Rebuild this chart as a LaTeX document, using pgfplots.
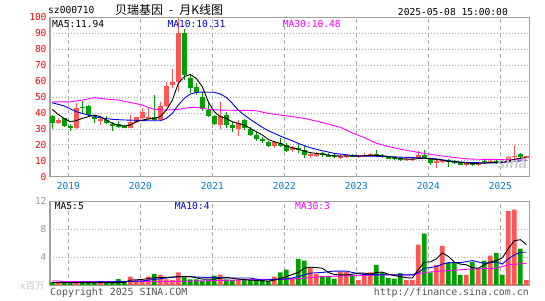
\documentclass[border=0pt]{standalone}
\usepackage{pgfplots}
\pgfplotsset{compat=1.18}
\usepackage{pgfplotstable}
\usepackage{fontspec}
\setmainfont{DejaVu Sans Mono}
\setmonofont{DejaVu Sans Mono}
\setsansfont{Liberation Sans}
\newfontfamily\cjk{Noto Sans CJK SC}

\definecolor{upC}{RGB}{255,85,85}
\definecolor{dnC}{RGB}{0,160,0}
\definecolor{frameC}{RGB}{160,160,160}
\definecolor{gridC}{RGB}{170,170,170}
\definecolor{yearC}{RGB}{0,128,204}
\definecolor{maB}{RGB}{0,0,230}
\definecolor{maM}{RGB}{255,0,255}
\definecolor{volC}{RGB}{150,150,150}
\definecolor{footC}{RGB}{85,85,85}

% monthly candles, index 0 = 2018-10
\pgfplotstableread{
i o h l c
1 34 37 33 35.6
4 30.5 46 29.7 43
8 35.6 37 32.4 36.2
13 30.3 38.7 30.3 34.5
14 34.5 37.7 34 37.2
15 36.6 43.3 36 40.8
16 36 42.9 35.6 37.7
18 35.6 47 35.4 44.4
19 44.4 59.6 44 57.1
20 57.5 67.4 55.4 59.6
21 59.6 99.5 53.3 90
28 32.4 47 29.7 38
31 29.7 35.6 25.5 33.5
37 19.2 22.5 17.8 22
40 16.7 19.2 15.7 18.4
43 12.8 14.8 12 14.2
44 13.4 15.2 12.2 14.4
48 12 14 11.4 12.8
49 12.8 14.5 12 13.4
51 12.6 13.8 12 13.2
52 13 14.6 12.2 13.6
53 13.4 14.6 12.6 14
59 10.4 11.6 10 11.2
60 10.6 11.8 9.6 11.2
61 11.2 16.1 10.8 13.6
64 9 10.4 5.5 9.6
65 9.4 11.2 8.6 10.2
69 7.8 9.5 7 8.6
71 7.8 9 6.6 8.4
73 9.2 10.2 8.8 9.8
76 9.4 13.2 8.8 12.6
77 12.6 19.9 11.2 13.2
79 12.4 13.2 12 12.9
}\upT
\pgfplotstableread{
i o h l c
0 38 39 30 34
2 36.6 37 31 32
3 32 33 28.5 31
5 43.8 47.5 39.7 43.2
6 44.4 45 38.3 38.7
7 37.7 38.7 33.5 36
9 35.6 38.3 32.8 33.5
10 32.8 34.5 28.9 32.2
11 32.8 35 30.3 31.4
12 31.8 32.5 30.3 31.2
17 37.7 51.3 35.2 35.6
22 90 93 60.7 63.8
23 61.7 63.8 52.3 55.4
24 56.5 58.6 51.3 52.7
25 49.8 53.3 41.4 42.3
26 41.8 46 37.7 38
27 38 38.7 32.4 33
29 38.7 40.8 30.3 32.4
30 32.4 34.5 28.2 30.3
32 35.6 36 29.3 30.3
33 29.7 31 25.5 26.2
34 26.2 28.2 22.6 23.4
35 23.4 24.7 21.3 22.6
36 22 22.5 18.4 19.2
38 21.3 24 18.8 19.2
39 19.9 20.9 15.7 16.3
41 17.8 20.9 15.1 17.2
42 16.7 19.2 11.5 13.6
45 14.6 15.2 12.6 13.4
46 13.6 14.6 12.2 12.6
47 13 14.2 11.5 12.4
50 13.4 14.2 12.4 12.8
54 14 16.8 12.4 12.8
55 13 14 12 12.4
56 12.4 12.8 11.2 11.6
57 11.8 12.4 10.6 11.2
58 11.6 12.2 9.8 10.6
62 13.8 16.8 11 11.5
63 11.5 12 7.4 8.6
66 10.5 11 6.3 9
67 9.6 10.6 8.2 8.8
68 8.4 9.2 7.4 7.9
70 8.3 9.3 7 7.8
72 9.9 10.6 8.6 9.2
74 9.7 11.1 8.2 8.4
75 9.6 10.4 8.6 9.0
78 14 14.8 11.2 12.4
}\dnT

\pgfplotstableread{
i v
0 42.3
1 39
2 36.5
3 34.5
4 35.2
5 36.6
6 37.7
7 38.7
8 37.7
9 35.6
10 33.5
11 32.4
12 31.8
13 32.4
14 34.5
15 35.6
16 36.2
17 36.6
18 37.7
19 41.8
20 48
21 58.6
22 62.8
23 64.2
24 61.7
25 56.5
26 47
27 40.8
28 37.7
29 36.6
30 34.5
31 33.5
32 32.4
33 30.3
34 28.2
35 26.2
36 23.4
37 22
38 20.9
39 19.2
40 18.2
41 17.2
42 16.1
43 15.1
44 14.6
45 14.2
46 13.6
47 13.2
48 13
49 13
50 13
51 12.9
52 13.1
53 13.4
54 13.4
55 13.2
56 12.7
57 12.1
58 11.4
59 11.1
60 11
61 11.4
62 11.6
63 11.2
64 10.8
65 10.4
66 9.6
67 9.3
68 9
69 8.6
70 8.4
71 8.4
72 8.5
73 8.8
74 9.1
75 9.2
76 9.9
77 10.9
78 11.6
79 11.94
}\maFive
\pgfplotstableread{
i v
0 46.4
2 44.4
4 40.8
6 38.7
8 37
10 36
12 35.6
14 35.4
16 35.1
18 35.1
19 36.6
20 39.7
21 45
22 49.2
23 51.9
24 52.9
25 53.1
26 53
27 53
28 51.9
29 49.8
30 46
31 41.8
32 38.7
33 36
34 33.5
35 31
36 28.9
37 27.2
38 25.5
39 24
40 22.6
41 20.9
42 19.5
43 18.2
44 17.2
45 16.3
46 15.5
47 14.6
48 14.2
49 13.8
50 13.3
52 13
54 12.8
56 12.6
58 12.3
60 12
62 11.7
64 11.2
66 10
68 9.2
70 8.9
72 8.7
74 8.7
76 9.2
78 9.9
79 10.31
}\maTen
\pgfplotstableread{
i v
0 47
3 47
5 48.1
7 49.6
9 48.7
11 48.1
13 46.6
15 45
16 43.5
17 42.3
19 41.8
21 42.3
22 42.9
23 43.5
24 43.5
26 42.3
28 41.8
32 41.6
34 41.4
36 39.7
38 38.7
40 37.7
42 36.6
44 34.9
46 33
48 31
50 27.5
52 24.5
54 21
56 19
58 17.3
60 15.9
62 14.6
64 13.5
66 12.5
68 11.6
70 11
72 10.9
74 10.8
76 10.6
79 10.48
}\maThirty

% volume, million shares
\pgfplotstableread{
i v
1 0.3
4 0.4
8 0.4
13 1.2
14 0.7
15 0.6
16 1.2
18 1.45
19 0.8
20 0.7
21 1.8
28 1.5
31 0.8
37 1.2
40 1.0
43 2.5
44 1.6
48 1.9
49 1.9
51 0.7
52 1.5
53 1.8
59 0.7
60 0.7
61 5.8
64 2.9
65 5.6
69 1.45
71 2.3
73 4.2
76 10.6
77 10.8
79 0.7
}\volUp
\pgfplotstableread{
i v
0 0.4
2 0.3
3 0.3
5 0.35
6 0.35
7 0.35
9 0.35
10 0.4
11 0.85
12 0.45
17 1.6
22 1.1
23 0.8
24 0.8
25 0.6
26 0.7
27 1.35
29 0.8
30 0.7
32 0.8
33 0.8
34 0.8
35 0.7
36 0.55
38 1.8
39 2.2
41 3.75
42 3.5
45 1.3
46 1.3
47 0.9
50 1.35
54 2.9
55 1.8
56 1.0
57 0.9
58 1.7
62 7.35
63 1.8
66 3.2
67 3.2
68 1.45
70 3.3
72 3.5
74 4.6
75 1.45
78 5.2
}\volDn
\pgfplotstableread{
i v
0 0.35
12 0.35
13 0.7
15 0.8
17 1.05
19 1.1
21 1.2
23 1.2
25 0.85
27 0.85
29 1.1
31 0.85
33 0.7
35 0.6
36 0.55
37 0.7
39 1.2
41 1.8
42 2.4
43 2.55
44 2.5
45 2.4
46 1.8
47 1.5
48 1.45
49 1.45
50 1.55
51 1.7
52 1.7
53 1.55
54 1.8
55 1.85
56 1.55
57 1.35
58 1.2
59 1.05
60 1.0
61 2.2
62 3.3
63 3.3
64 3.75
65 4.6
66 4.1
67 3.3
68 3.0
69 2.9
70 2.5
71 2.4
72 2.9
73 3.3
74 3.5
75 3.9
76 5.2
77 6.35
78 6.5
79 5.8
}\vmaFive
\pgfplotstableread{
i v
0 0.35
13 0.5
15 0.6
17 0.8
19 1.0
21 1.2
23 1.2
25 1.1
27 1.1
29 1.0
33 1.0
35 0.7
37 0.8
39 0.85
41 1.2
43 1.7
45 1.8
47 2.0
49 2.0
50 1.8
52 1.5
58 1.45
60 1.45
61 1.8
62 2.4
63 2.5
64 2.65
65 3.0
66 3.2
68 3.2
69 3.35
70 3.5
71 3.3
72 3.1
74 3.3
75 3.0
76 3.75
77 4.3
78 4.7
79 4.7
}\vmaTen
\pgfplotstableread{
i v
0 0.6
2 0.5
20 0.5
25 0.6
30 0.7
35 0.8
40 0.85
45 1.2
50 1.35
55 1.45
60 1.45
62 1.8
65 2.0
70 2.3
74 2.4
76 2.9
79 3.1
}\vmaThirty

\pgfplotsset{
  kbase/.style={scale only axis, width=479.5pt, xmin=-0.383, xmax=79.53,
    axis line style={frameC, line width=1.2pt},
    xtick={2.667,14.667,26.667,38.667,50.667,62.667,74.667},
    xmajorgrids, ymajorgrids,
    major x grid style={gridC, dash pattern=on 4pt off 3pt, line width=0.8pt},
    major y grid style={gridC, dash pattern=on 1pt off 2pt, line width=0.8pt},
    major tick length=0pt, tick style={draw=none},
    ticklabel style={font=\fontsize{9.5}{10}\selectfont},
    /pgf/number format/assume math mode=true},
  wick/.style={draw=none, mark=none, forget plot,
    error bars/.cd, y dir=both, y explicit, error mark=none,
    error bar style={line width=1pt, draw=#1, solid}},
  body/.style={draw=none, mark=none, forget plot,
    error bars/.cd, y dir=both, y explicit, error mark=none,
    error bar style={line width=4.7pt, draw=#1, solid}},
}
\newcommand\tsz{\fontsize{9.6}{10}\selectfont}

\begin{document}
\begin{tikzpicture}
\useasboundingbox (0,0) rectangle (545pt,300pt);
\fill[white] (0,0) rectangle (545pt,300pt);

% price panel
\begin{axis}[kbase, at={(50pt,123.3pt)}, anchor=south west, height=159.3pt,
  ymin=0, ymax=100, ytick={0,10,...,100},
  yticklabel style={text=red},
  xticklabels={2019,2020,2021,2022,2023,2024,2025},
  xticklabel style={text=yearC, yshift=-2pt}]
  \addplot[wick=upC] table[x=i, y expr={(\thisrow{h}+\thisrow{l})/2}, y error expr={(\thisrow{h}-\thisrow{l})/2}] {\upT};
  \addplot[wick=dnC] table[x=i, y expr={(\thisrow{h}+\thisrow{l})/2}, y error expr={(\thisrow{h}-\thisrow{l})/2}] {\dnT};
  \addplot[body=upC] table[x=i, y expr={(\thisrow{o}+\thisrow{c})/2}, y error expr={abs(\thisrow{c}-\thisrow{o})/2}] {\upT};
  \addplot[body=dnC] table[x=i, y expr={(\thisrow{o}+\thisrow{c})/2}, y error expr={abs(\thisrow{c}-\thisrow{o})/2}] {\dnT};
  \addplot[maM, line width=0.9pt] table[x=i, y=v] {\maThirty};
  \addplot[maB, line width=0.9pt] table[x=i, y=v] {\maTen};
  \addplot[black, line width=0.9pt] table[x=i, y=v] {\maFive};
\end{axis}

% volume panel
\begin{axis}[kbase, at={(50pt,15pt)}, anchor=south west, height=83.7pt,
  ymin=0, ymax=12, ytick={4,8,12},
  yticklabel style={text=volC}, xticklabels={}]
  \addplot[ybar, bar width=4.7pt, bar shift=0pt, fill=upC, draw=none] table[x=i, y=v] {\volUp};
  \addplot[ybar, bar width=4.7pt, bar shift=0pt, fill=dnC, draw=none] table[x=i, y=v] {\volDn};
  \addplot[maM, line width=0.9pt] table[x=i, y=v] {\vmaThirty};
  \addplot[maB, line width=0.9pt] table[x=i, y=v] {\vmaTen};
  \addplot[black, line width=0.9pt] table[x=i, y=v] {\vmaFive};
\end{axis}

\begin{scope}[every node/.style={inner sep=0pt}]
\node[anchor=west, font=\tsz] at (48pt,290pt) {sz000710};
\node[anchor=west, font=\fontsize{12}{13}\cjk] at (115pt,290pt) {贝瑞基因\hspace{6pt}-\hspace{6pt}月K线图};
\node[anchor=east, font=\tsz] at (508pt,288pt) {2025-05-08 15:00:00};
\node[anchor=west, font=\tsz] at (52pt,276pt) {MA5:11.94};
\node[anchor=west, font=\tsz, text=maB] at (167.3pt,276pt) {MA10:10.31};
\node[anchor=west, font=\tsz, text=maM] at (282.7pt,276pt) {MA30:10.48};
\node[anchor=west, font=\tsz] at (54.7pt,93.5pt) {MA5:5};
\node[anchor=west, font=\tsz, text=maB] at (174.7pt,93.5pt) {MA10:4};
\node[anchor=west, font=\tsz, text=maM] at (295pt,93.5pt) {MA30:3};
\node[anchor=east, font=\tsz, text={rgb,255:red,200;green,200;blue,200}] at (45pt,14pt) {x{\cjk 百万}};
\node[anchor=west, font=\fontsize{9.9}{10}\selectfont, text=footC] at (50pt,7.3pt) {Copyright 2025 SINA.COM};
\node[anchor=east, font=\fontsize{9.9}{10}\selectfont, text=footC] at (529pt,7.3pt) {http://finance.sina.com.cn};
\node[font=\fontsize{15}{15}\sffamily\bfseries\itshape, text={rgb,255:red,205;green,205;blue,205}] at (512pt,136.5pt) {sina};
\end{scope}
\end{tikzpicture}
\end{document}
